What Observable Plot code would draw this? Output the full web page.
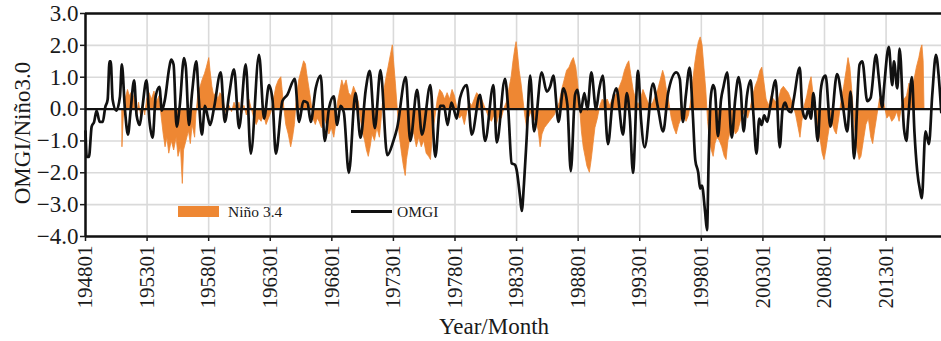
<!DOCTYPE html>
<html><head><meta charset="utf-8">
<script src="https://cdn.jsdelivr.net/npm/d3@7"></script>
<script src="https://cdn.jsdelivr.net/npm/@observablehq/plot@0.6"></script>
<style>
body{margin:0;background:#fff;}
#wrap{position:relative;width:941px;height:341px;overflow:hidden;font-family:"Liberation Serif","Times New Roman",serif;color:#1a1a1a;}
#wrap svg, #wrap svg text{font-family:"Liberation Serif","Times New Roman",serif !important;}
.lab{position:absolute;white-space:nowrap;line-height:1;}
</style></head><body><div id="wrap"></div>
<script>
// ---- tick definitions ----
const xTickYears = [1948,1953,1958,1963,1968,1973,1978,1983,1988,1993,1998,2003,2008,2013];
const xTickLabels = ["194801","195301","195801","196301","196801","197301","197801","198301","198801","199301","199801","200301","200801","201301"];
const yTicks = [-4,-3,-2,-1,0,1,2,3];
const yTickLabels = ["\u22124.0","\u22123.0","\u22122.0","\u22121.0","0.0","1.0","2.0","3.0"];

// ---- OMGI (line vertices: decimal year, value) ----
const omgiTime = [1948.00,1948.10,1948.28,1948.50,1948.70,1948.90,1949.15,1949.40,1949.60,1949.80,1949.95,1950.05,1950.20,1950.50,1950.80,1950.95,1951.20,1951.45,1951.65,1951.95,1952.15,1952.40,1952.60,1952.95,1953.20,1953.45,1953.70,1954.00,1954.20,1954.45,1954.80,1954.95,1955.15,1955.40,1955.65,1956.00,1956.15,1956.40,1956.65,1957.00,1957.20,1957.45,1957.70,1957.90,1958.12,1958.44,1958.98,1959.31,1959.66,1960.06,1960.47,1961.01,1961.42,1962.09,1962.50,1962.90,1963.18,1963.45,1963.99,1964.39,1964.99,1965.34,1965.69,1966.02,1966.29,1966.69,1967.10,1967.42,1967.78,1968.16,1968.43,1968.70,1968.97,1969.38,1969.92,1970.33,1970.75,1971.08,1971.49,1971.95,1972.50,1973.00,1973.30,1974.00,1974.37,1974.92,1975.32,1976.00,1976.40,1976.80,1977.10,1977.40,1977.70,1977.87,1978.14,1978.41,1978.95,1979.36,1980.03,1980.44,1981.12,1981.39,1982.06,1982.33,1982.60,1982.87,1983.00,1983.28,1983.42,1983.60,1983.82,1984.10,1984.42,1985.04,1985.45,1985.72,1985.99,1986.40,1986.80,1987.12,1987.40,1987.75,1987.95,1988.20,1988.50,1988.75,1989.07,1989.45,1989.70,1990.00,1990.42,1990.80,1991.10,1991.64,1991.95,1992.20,1992.45,1992.86,1993.10,1993.40,1994.07,1994.45,1994.90,1995.30,1995.97,1996.25,1996.50,1996.75,1997.05,1997.30,1997.51,1997.75,1997.90,1998.05,1998.30,1998.46,1998.60,1998.75,1998.95,1999.10,1999.35,1999.60,1999.80,2000.10,2000.47,2000.75,2001.03,2001.20,2001.43,2001.70,2002.00,2002.20,2002.48,2002.70,2002.90,2003.10,2003.35,2003.60,2004.03,2004.37,2004.60,2004.80,2005.00,2005.30,2005.50,2005.99,2006.20,2006.45,2006.70,2006.90,2007.10,2007.45,2007.70,2007.93,2008.09,2008.48,2009.02,2009.44,2009.85,2010.12,2010.40,2010.85,2011.07,2011.47,2011.74,2012.18,2012.42,2012.69,2012.83,2013.22,2013.50,2013.64,2013.91,2014.10,2014.45,2014.65,2014.80,2015.10,2015.30,2015.53,2015.78,2015.90,2016.20,2016.48,2016.75,2017.05,2017.29,2017.48];
const omgiValue = [-0.7,-1.5,-1.5,-0.55,-0.4,-0.05,-0.4,-0.4,0.05,0.3,1.5,1.5,0.3,-0.05,0.4,1.4,0.0,-0.8,-0.1,0.9,-0.2,-0.5,0.0,0.9,-0.4,-0.9,0.4,0.7,-0.05,0.3,1.3,1.55,1.4,-0.55,0.1,1.6,1.3,-0.5,0.5,1.5,0.3,-0.8,0.1,-0.2,-0.5,0.05,1.15,-0.4,0.45,1.25,-0.6,1.4,-1.4,1.7,-0.3,0.75,0.3,-1.4,0.25,0.45,0.95,-0.4,0.25,0.2,-0.4,0.65,1.05,-1.0,0.05,0.4,-0.5,0.1,-0.1,-2.0,0.5,-0.9,0.6,1.2,-0.6,1.22,-1.45,-1.0,-0.6,1.0,-1.0,0.6,-0.8,0.75,-1.5,0.1,0.1,-0.5,0.2,0.05,-0.3,0.35,0.75,-0.8,0.45,-1.0,0.75,-1.05,0.95,-0.05,-1.7,-1.75,-1.9,-2.75,-3.2,-2.35,-0.9,1.05,-0.7,1.15,0.55,0.7,1.05,-0.4,0.65,0.15,-1.95,0.45,0.6,-0.1,0.5,0.0,1.15,0.0,0.6,1.05,-1.1,0.25,0.65,-0.8,0.5,-0.3,-2.0,1.2,-0.3,-1.2,0.8,0.1,-0.7,0.5,1.15,0.95,-0.4,0.45,1.3,-0.1,-1.6,-2.0,-2.5,-2.4,-3.2,-3.8,-1.5,0.3,0.75,0.6,-0.85,0.3,0.7,1.15,-0.9,0.3,1.0,0.6,-0.7,0.4,0.9,0.0,-1.4,-0.3,-0.5,-0.2,-0.4,0.1,0.9,-1.2,0.0,0.2,0.0,-0.1,0.3,1.3,0.0,-0.3,0.0,-0.3,0.5,-1.0,0.6,1.0,1.05,-0.55,1.1,0.25,-0.7,0.55,-1.55,1.4,1.5,0.25,0.35,1.7,0.95,0.05,0.65,1.95,0.75,1.5,0.65,1.9,-0.6,-1.0,-0.3,1.0,-0.7,-1.95,-2.6,-2.8,-0.7,-1.1,0.45,1.7,0.95,-0.1];

// ---- Niño 3.4 (envelope vertices: decimal year, value) ----
const ninoTime = [1950.98,1951.00,1951.10,1951.25,1951.45,1951.60,1951.80,1952.00,1952.20,1952.35,1952.55,1952.70,1952.85,1953.00,1953.20,1953.40,1953.60,1953.80,1954.00,1954.20,1954.35,1954.50,1954.65,1954.80,1955.00,1955.20,1955.40,1955.55,1955.75,1955.90,1956.00,1956.20,1956.40,1956.55,1956.70,1956.90,1957.00,1957.15,1957.35,1957.50,1957.70,1957.85,1958.05,1958.15,1958.30,1958.45,1958.60,1958.80,1958.95,1959.15,1959.30,1959.50,1959.70,1959.90,1960.10,1960.30,1960.50,1960.70,1960.90,1961.10,1961.30,1961.50,1961.70,1961.90,1962.10,1962.30,1962.50,1962.70,1962.90,1963.10,1963.30,1963.50,1963.70,1963.90,1964.00,1964.15,1964.30,1964.50,1964.70,1964.85,1965.00,1965.15,1965.35,1965.55,1965.75,1965.90,1966.00,1966.20,1966.35,1966.50,1966.70,1966.85,1967.00,1967.20,1967.40,1967.60,1967.80,1968.00,1968.20,1968.35,1968.50,1968.70,1968.85,1969.00,1969.20,1969.40,1969.60,1969.80,1970.00,1970.20,1970.35,1970.50,1970.70,1970.85,1971.00,1971.15,1971.30,1971.50,1971.70,1971.90,1972.05,1972.20,1972.40,1972.60,1972.80,1972.95,1973.05,1973.20,1973.35,1973.50,1973.70,1973.85,1974.00,1974.10,1974.30,1974.50,1974.70,1974.90,1975.10,1975.30,1975.50,1975.70,1975.90,1976.05,1976.20,1976.40,1976.60,1976.80,1977.00,1977.20,1977.40,1977.60,1977.80,1978.00,1978.20,1978.40,1978.60,1978.80,1979.00,1979.20,1979.40,1979.60,1979.80,1980.00,1980.20,1980.40,1980.60,1980.80,1981.00,1981.20,1981.40,1981.60,1981.80,1982.00,1982.20,1982.40,1982.60,1982.75,1982.90,1983.00,1983.10,1983.25,1983.40,1983.55,1983.70,1983.85,1984.00,1984.20,1984.40,1984.60,1984.80,1984.95,1985.10,1985.30,1985.50,1985.70,1985.90,1986.10,1986.30,1986.50,1986.70,1986.90,1987.10,1987.30,1987.50,1987.65,1987.85,1988.00,1988.15,1988.30,1988.45,1988.60,1988.75,1988.95,1989.10,1989.25,1989.40,1989.60,1989.80,1990.00,1990.20,1990.40,1990.60,1990.80,1991.00,1991.20,1991.40,1991.60,1991.80,1992.00,1992.15,1992.30,1992.50,1992.70,1992.90,1993.10,1993.30,1993.50,1993.70,1993.90,1994.10,1994.30,1994.50,1994.70,1994.90,1995.05,1995.20,1995.40,1995.60,1995.80,1996.00,1996.20,1996.40,1996.60,1996.80,1997.00,1997.20,1997.35,1997.50,1997.65,1997.80,1997.95,1998.10,1998.25,1998.40,1998.55,1998.70,1998.85,1999.00,1999.15,1999.30,1999.50,1999.70,1999.90,2000.05,2000.20,2000.40,2000.60,2000.80,2001.00,2001.20,2001.40,2001.60,2001.80,2002.00,2002.20,2002.40,2002.60,2002.80,2002.95,2003.10,2003.30,2003.50,2003.70,2003.90,2004.10,2004.30,2004.50,2004.70,2004.90,2005.10,2005.30,2005.50,2005.70,2005.90,2006.05,2006.20,2006.40,2006.60,2006.80,2006.95,2007.10,2007.30,2007.50,2007.70,2007.85,2008.00,2008.15,2008.30,2008.50,2008.70,2008.85,2009.00,2009.20,2009.40,2009.60,2009.80,2009.95,2010.10,2010.25,2010.40,2010.55,2010.70,2010.85,2011.00,2011.20,2011.40,2011.60,2011.80,2011.95,2012.10,2012.30,2012.50,2012.70,2012.90,2013.10,2013.30,2013.50,2013.70,2013.90,2014.10,2014.30,2014.50,2014.70,2014.90,2015.10,2015.30,2015.50,2015.70,2015.85,2015.95,2016.05,2016.12];
const ninoValue = [0,-1.2,-0.3,0.3,0.6,0.4,0.55,0.3,-0.2,0.2,-0.3,0.1,-0.2,0.3,0.5,0.3,0.55,0.2,0.4,-0.3,-0.8,-1.2,-0.9,-1.4,-1.0,-1.3,-0.9,-1.5,-1.2,-2.35,-1.3,-1.0,-0.7,-1.1,-0.5,-0.9,-0.2,0.4,0.7,0.9,1.1,1.3,1.6,1.2,0.7,0.4,0.5,0.3,0.5,0.4,0.1,-0.2,0.1,-0.1,0.2,0.0,0.2,-0.2,0.1,-0.2,0.3,0.0,-0.3,-0.5,-0.3,-0.4,-0.2,-0.5,-0.3,-0.1,0.3,0.7,0.9,1.0,0.6,0.0,-0.5,-0.8,-1.2,-0.9,-0.5,0.3,0.9,1.2,1.5,1.4,1.1,0.6,0.2,-0.3,-0.5,-0.3,-0.4,-0.6,-0.3,-0.5,-0.8,-0.6,-0.9,-0.5,0.2,0.6,0.9,0.7,0.9,0.5,0.4,0.7,0.5,0.2,-0.3,-0.7,-1.0,-1.3,-1.5,-1.2,-0.8,-1.0,-0.6,-0.9,-0.3,0.4,0.9,1.3,1.7,2.0,1.5,0.8,0.0,-0.8,-1.4,-1.8,-2.1,-1.6,-1.1,-0.6,-0.8,-1.2,-0.9,-1.2,-1.0,-1.4,-1.5,-1.6,-0.8,-0.3,0.3,0.6,0.5,0.3,0.5,0.3,0.6,0.4,0.0,-0.3,-0.2,-0.5,-0.1,0.2,0.1,0.3,0.5,0.4,0.3,0.1,-0.1,-0.3,-0.4,-0.2,-0.5,-0.2,-0.3,0.0,0.2,0.6,1.0,1.5,1.9,2.1,1.8,1.2,0.8,0.3,-0.2,-0.6,-0.3,-0.1,-0.4,-0.3,-0.7,-1.2,-0.8,-0.6,-0.5,-0.4,-0.3,-0.2,0.0,0.2,0.6,0.9,1.2,1.3,1.5,1.6,1.3,0.8,0.1,-0.7,-1.2,-1.5,-1.8,-2.0,-1.6,-1.1,-0.6,-0.3,0.1,0.3,0.2,0.3,0.1,0.3,0.4,0.5,0.7,0.9,1.2,1.4,1.5,1.1,0.6,0.3,0.1,0.3,0.6,0.4,0.2,0.1,0.2,0.4,0.6,0.9,1.2,1.0,0.6,0.2,-0.3,-0.6,-0.8,-0.5,-0.3,-0.2,-0.4,-0.2,0.3,0.9,1.4,1.8,2.1,2.25,2.0,1.3,0.6,-0.4,-1.0,-1.3,-1.5,-1.1,-0.9,-1.0,-1.2,-1.5,-1.6,-1.0,-0.7,-0.5,-0.8,-0.7,-0.4,-0.2,-0.1,-0.3,0.0,0.4,0.7,0.9,1.2,1.3,0.9,0.3,0.1,0.4,0.3,0.2,0.3,0.6,0.7,0.6,0.5,0.3,0.1,-0.2,-0.6,-0.9,-0.4,0.1,0.4,0.8,1.0,0.5,-0.2,-0.6,-1.0,-1.4,-1.6,-1.3,-0.9,-0.4,-0.5,-0.7,-0.8,-0.3,0.3,0.7,1.2,1.6,1.3,0.6,-0.2,-0.9,-1.3,-1.6,-1.5,-1.0,-0.5,-0.3,-0.9,-1.1,-0.7,-0.2,0.3,0.4,0.1,-0.3,-0.2,-0.4,-0.3,-0.1,-0.4,0.1,0.3,0.4,0.8,0.6,0.9,1.3,1.6,1.9,2.0,1.5,0.0];

const omgi = omgiTime.map((t, i) => ({t, v: omgiValue[i]}));
const nino = ninoTime.map((t, i) => ({t, v: ninoValue[i]}));
const xLabelOf = new Map(xTickYears.map((y, i) => [y, xTickLabels[i]]));
const yLabelOf = new Map(yTicks.map((y, i) => [y, yTickLabels[i]]));

const ORANGE = "#ee8733";
const GRID = "#dadada";
const SERIF = "'Liberation Serif','Times New Roman',serif";

const chart = Plot.plot({
  width: 941,
  height: 341,
  marginLeft: 85,
  marginRight: 0,
  marginTop: 13,
  marginBottom: 105,
  style: {fontFamily: SERIF, background: "white", color: "#1a1a1a"},
  x: {domain: [1948, 2017.5]},
  y: {domain: [-4, 3]},
  marks: [
    Plot.gridX(xTickYears, {stroke: GRID, strokeOpacity: 1, strokeWidth: 1.6}),
    Plot.gridY(yTicks, {stroke: GRID, strokeOpacity: 1, strokeWidth: 1.6}),
    Plot.areaY(nino, {x: "t", y: "v", fill: ORANGE, stroke: ORANGE, strokeWidth: 0.8}),
    Plot.ruleY([0], {stroke: "#111", strokeWidth: 2.2}),
    Plot.line(omgi, {x: "t", y: "v", stroke: "#111", strokeWidth: 2.7, strokeLinejoin: "round", curve: "monotone-x"}),
    Plot.ruleY([3], {stroke: "#111", strokeWidth: 2.5}),
    Plot.ruleY([-4], {stroke: "#111", strokeWidth: 2.5}),
    Plot.ruleX([1948], {stroke: "#111", strokeWidth: 2.5}),
    Plot.axisY(yTicks, {anchor: "left", tickFormat: d => yLabelOf.get(d), tickSize: 5, tickPadding: 2, fontSize: 23, fontFamily: SERIF, label: null, strokeWidth: 1.5}),
    Plot.axisX(xTickYears, {anchor: "bottom", tickFormat: d => xLabelOf.get(d), tickRotate: -90, tickSize: 5, tickPadding: 4, fontSize: 21, fontFamily: SERIF, label: null, strokeWidth: 1.5})
  ]
});

const wrap = document.getElementById("wrap");
wrap.appendChild(chart);

function addLabel(html, css) {
  const d = document.createElement("div");
  d.className = "lab";
  d.innerHTML = html;
  Object.assign(d.style, css);
  wrap.appendChild(d);
  return d;
}
// axis titles
addLabel("Year/Month", {left: "494px", top: "326px", fontSize: "23px", transform: "translate(-50%,-50%)"});
addLabel("OMGI/Niño3.0", {left: "22px", top: "133px", fontSize: "23px", transform: "translate(-50%,-50%) rotate(-90deg)"});
// legend
addLabel("", {left: "178px", top: "206px", width: "41px", height: "11px", background: ORANGE});
addLabel("Niño 3.4", {left: "228px", top: "204px", fontSize: "15.5px"});
addLabel("", {left: "351px", top: "210px", width: "41px", height: "2.5px", background: "#111"});
addLabel("OMGI", {left: "397px", top: "204px", fontSize: "15.5px"});
</script>
</body></html>
